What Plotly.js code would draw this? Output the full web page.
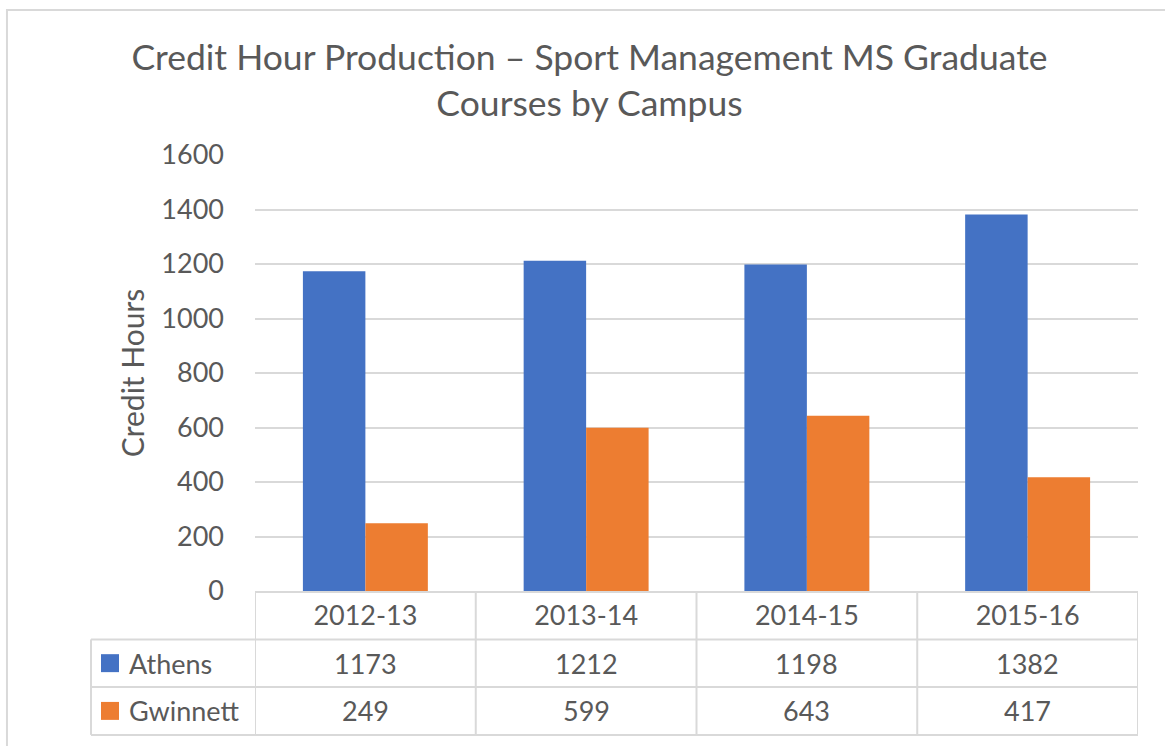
<!DOCTYPE html>
<html>
<head>
<meta charset="utf-8">
<script src="https://cdn.plot.ly/plotly-3.0.1.min.js"></script>
<style>html,body{margin:0;padding:0;background:#fff;}#chart{width:1165px;height:746px;}</style>
</head>
<body>
<div id="chart"></div>
<script>
const categories = ["2012-13", "2013-14", "2014-15", "2015-16"];
const seriesNames = ["Athens", "Gwinnett"];
const athens = [1173, 1212, 1198, 1382];
const gwinnett = [249, 599, 643, 417];
const yTicks = [0, 200, 400, 600, 800, 1000, 1200, 1400, 1600];

const FONT = "Lato, 'Open Sans', sans-serif";
const TXT = "#595959";
const GRID = "#D9D9D9";
const colors = ["#4472C4", "#ED7D31"];
const values = [athens, gwinnett];

const traces = seriesNames.map((name, i) => ({
  type: "bar",
  name: name,
  x: categories,
  y: values[i],
  marker: {color: colors[i]},
  hoverinfo: "x+y+name"
}));

// table geometry in paper coords
const rowTop = [0, -0.111, -0.220];   // header, Athens, Gwinnett
const rowBot = [-0.111, -0.220, -0.330];
const leftX = -0.1857;

const shapes = [];
const line = {color: GRID, width: 2};
// horizontal lines
for (let r = 0; r < 3; r++) {
  shapes.push({type: "line", xref: "paper", yref: "paper", x0: leftX, x1: 1, y0: rowBot[r], y1: rowBot[r], line});
}
// vertical lines
for (let k = 0; k <= categories.length; k++) {
  shapes.push({type: "line", xref: "x", yref: "paper", x0: k - 0.5, x1: k - 0.5, y0: 0, y1: rowBot[2], line});
}
shapes.push({type: "line", xref: "paper", yref: "paper", x0: leftX, x1: leftX, y0: rowTop[1], y1: rowBot[2], line});
// legend keys
seriesNames.forEach((n, i) => {
  const yc = (rowTop[i + 1] + rowBot[i + 1]) / 2;
  shapes.push({type: "rect", xref: "paper", yref: "paper", x0: -0.1744, x1: -0.1540,
    y0: yc - 0.0206, y1: yc + 0.0206, fillcolor: colors[i], line: {width: 0}});
});
// outer chart border
shapes.push({type: "rect", xref: "paper", yref: "paper", x0: -0.2809, x1: 1.06, y0: -0.40, y1: 1.3326,
  line: {color: GRID, width: 2}, fillcolor: "rgba(0,0,0,0)", layer: "below"});

const annotations = [];
seriesNames.forEach((n, i) => {
  const yc = (rowTop[i + 1] + rowBot[i + 1]) / 2;
  annotations.push({xref: "paper", yref: "paper", x: -0.145, y: yc, xanchor: "left", yanchor: "middle",
    text: n, showarrow: false, font: {family: FONT, size: 27, color: TXT}});
  categories.forEach((c, j) => {
    annotations.push({xref: "x", yref: "paper", x: c, y: yc, xanchor: "center", yanchor: "middle",
      text: String(values[i][j]), showarrow: false, font: {family: FONT, size: 27, color: TXT}});
  });
});

const layout = {
  width: 1165, height: 746,
  margin: {l: 255, r: 27, t: 155, b: 155},
  paper_bgcolor: "#fff", plot_bgcolor: "#fff",
  font: {family: FONT, color: TXT},
  showlegend: false,
  bargap: 0.434, bargroupgap: 0,
  barmode: "group",
  title: {text: "Credit Hour Production \u2013 Sport Management MS Graduate<br>Courses by Campus",
    x: 0.506, xanchor: "center", y: 0.906, yanchor: "middle", yref: "container",
    font: {family: FONT, size: 35.5, color: TXT}},
  xaxis: {type: "category", range: [-0.5, 3.5], showgrid: false, zeroline: false,
    showline: true, linecolor: GRID, linewidth: 2,
    ticks: "", ticklabelstandoff: 0, tickfont: {family: FONT, size: 27, color: TXT}},
  yaxis: {range: [0, 1600], tickvals: yTicks, ticktext: yTicks.map(String),
    showgrid: true, gridcolor: GRID, gridwidth: 1.5, zeroline: false, showline: false,
    ticks: "", ticklabelstandoff: 30, tickfont: {family: FONT, size: 27, color: TXT},
    title: {text: "Credit Hours", standoff: 7, font: {family: FONT, size: 30, color: TXT}}},
  shapes, annotations
};

Plotly.newPlot("chart", traces, layout, {displayModeBar: false});
</script>
</body>
</html>
